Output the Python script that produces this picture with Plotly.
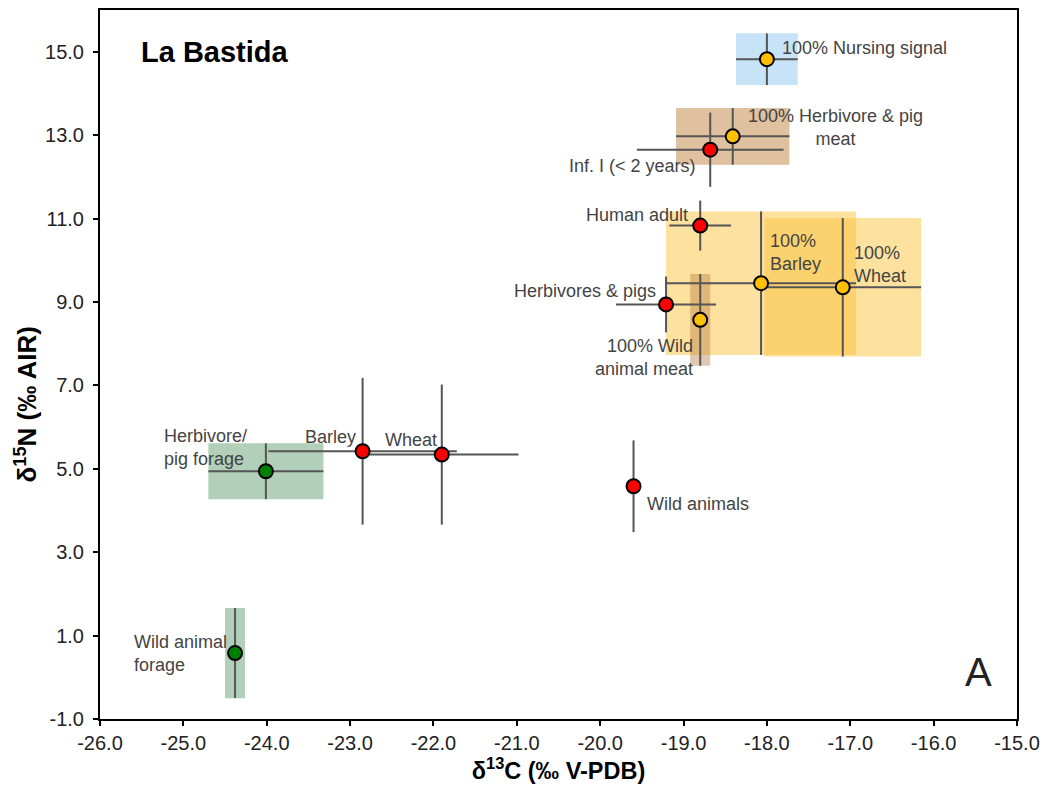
import plotly.graph_objects as go

# Stable isotope values (mean, SD)
labels = ['100% Nursing signal', '100% Herbivore & pig meat', 'Inf. I (< 2 years)',
          'Human adult', 'Herbivores & pigs', '100% Wild animal meat', '100% Barley',
          '100% Wheat', 'Herbivore/pig forage', 'Barley', 'Wheat', 'Wild animals',
          'Wild animal forage']
d13c = [-18.00, -18.41, -18.68, -18.80, -19.21, -18.80, -18.07, -17.09, -24.01, -22.85, -21.90, -19.60, -24.38]
d15n = [14.82, 12.97, 12.65, 10.83, 8.94, 8.57, 9.45, 9.35, 4.94, 5.42, 5.34, 4.58, 0.58]
sd13c = [0.37, 0.68, 0.88, 0.37, 0.60, 0.12, 1.14, 0.94, 0.69, 1.13, 0.92, 0.0, 0.12]
sd15n = [0.62, 0.68, 0.89, 0.60, 0.67, 1.10, 1.72, 1.66, 0.67, 1.76, 1.68, 1.10, 1.08]
# horizontal bars as drawn (the two narrow ranges have none)
bar13c = [0.37, 0.68, 0.88, 0.37, 0.60, 0.0, 1.14, 0.94, 0.69, 1.13, 0.92, 0.0, 0.0]
kind = ['model', 'model', 'human', 'human', 'fauna', 'model', 'model', 'model',
        'forage', 'plant', 'plant', 'fauna', 'forage']

# shaded ranges for the dietary end-members (index into the lists above)
box_idx = [0, 1, 6, 7, 5, 8, 12]
box_fill = ['rgba(168,212,242,0.65)', 'rgba(196,140,80,0.55)', 'rgba(252,196,64,0.5)',
            'rgba(252,196,64,0.5)', 'rgba(180,120,60,0.4)', 'rgba(100,160,115,0.5)',
            'rgba(100,160,115,0.5)']

x_ticks = [-26, -25, -24, -23, -22, -21, -20, -19, -18, -17, -16, -15]
y_ticks = [-1, 1, 3, 5, 7, 9, 11, 13, 15]

kind_colors = {'model': '#FFC000', 'human': '#FF0000', 'fauna': '#FF0000',
               'plant': '#FF0000', 'forage': '#008000'}

fig = go.Figure()

for i, fill in zip(box_idx, box_fill):
    fig.add_shape(type='rect', xref='x', yref='y', layer='below',
                  x0=d13c[i] - sd13c[i], x1=d13c[i] + sd13c[i],
                  y0=d15n[i] - sd15n[i], y1=d15n[i] + sd15n[i],
                  fillcolor=fill, line_width=0)

fig.add_trace(go.Scatter(
    x=d13c, y=d15n, mode='markers', text=labels,
    error_x=dict(type='data', array=bar13c, visible=True, color='#555555', thickness=2, width=0),
    error_y=dict(type='data', array=sd15n, visible=True, color='#555555', thickness=2, width=0),
    marker=dict(size=14, color=[kind_colors[k] for k in kind], line=dict(color='black', width=2)),
    showlegend=False, hoverinfo='text+x+y'
))

# point labels
txt = dict(family='Liberation Sans, Arial', size=18, color='#444444')
notes = [
    (-17.84, 15.10, '100% Nursing signal', 'left', 'left'),
    (-17.18, 13.18, '100% Herbivore & pig<br>meat', 'center', 'center'),
    (-18.83, 12.27, 'Inf. I (< 2 years)', 'right', 'right'),
    (-18.92, 11.08, 'Human adult', 'right', 'right'),
    (-19.31, 9.26, 'Herbivores & pigs', 'right', 'right'),
    (-17.99, 10.19, '100%<br>Barley', 'left', 'left'),
    (-16.98, 9.90, '100%<br>Wheat', 'left', 'left'),
    (-18.86, 7.66, '100% Wild<br>animal meat', 'right', 'right'),
    (-25.26, 5.51, 'Herbivore/<br>pig forage', 'left', 'left'),
    (-22.90, 5.77, 'Barley', 'right', 'right'),
    (-22.60, 5.68, 'Wheat', 'left', 'left'),
    (-19.46, 4.15, 'Wild animals', 'left', 'left'),
    (-25.62, 0.58, 'Wild animal<br>forage', 'left', 'left'),
]
for x, y, t, xa, al in notes:
    fig.add_annotation(x=x, y=y, text=t, xanchor=xa, align=al, yanchor='middle',
                       showarrow=False, font=txt)

fig.add_annotation(x=-25.53, y=15.0, text='<b>La Bastida</b>', xanchor='left', yanchor='middle',
                   showarrow=False, font=dict(family='Liberation Sans, Arial', size=29, color='black'))
fig.add_annotation(x=-15.46, y=0.13, text='A', xanchor='center', yanchor='middle',
                   showarrow=False, font=dict(family='Liberation Sans, Arial', size=40, color='#222222'))

# y-axis title sits a little below the middle in the original
fig.add_annotation(xref='paper', yref='paper', x=0, y=0.443, xshift=-73.5,
                   xanchor='center', yanchor='middle', textangle=-90, showarrow=False,
                   text='<b>δ<sup>15</sup>N (‰ AIR)</b>',
                   font=dict(family='Liberation Sans, Arial', size=26, color='black'))

axis_common = dict(showline=True, linecolor='black', linewidth=2, mirror=True,
                   ticks='outside', ticklen=5, tickwidth=2, tickcolor='black',
                   showgrid=False, zeroline=False,
                   tickfont=dict(family='Liberation Sans, Arial', size=20, color='#222222'))

fig.update_xaxes(range=[-26, -15], tickvals=x_ticks,
                 ticktext=['%.1f' % v for v in x_ticks],
                 title=dict(text='<b>δ<sup>13</sup>C (‰ V-PDB)</b>', standoff=8,
                            font=dict(family='Liberation Sans, Arial', size=23.5, color='black')),
                 **axis_common)
fig.update_yaxes(range=[-1, 16], tickvals=y_ticks,
                 ticktext=['%.1f' % v for v in y_ticks], ticklabelstandoff=5,
                 **axis_common)

fig.update_layout(
    width=1060, height=795,
    margin=dict(l=92, r=51, t=0, b=84),
    plot_bgcolor='white', paper_bgcolor='white',
    font=dict(family='Liberation Sans, Arial')
)

fig.write_html("out.html")
